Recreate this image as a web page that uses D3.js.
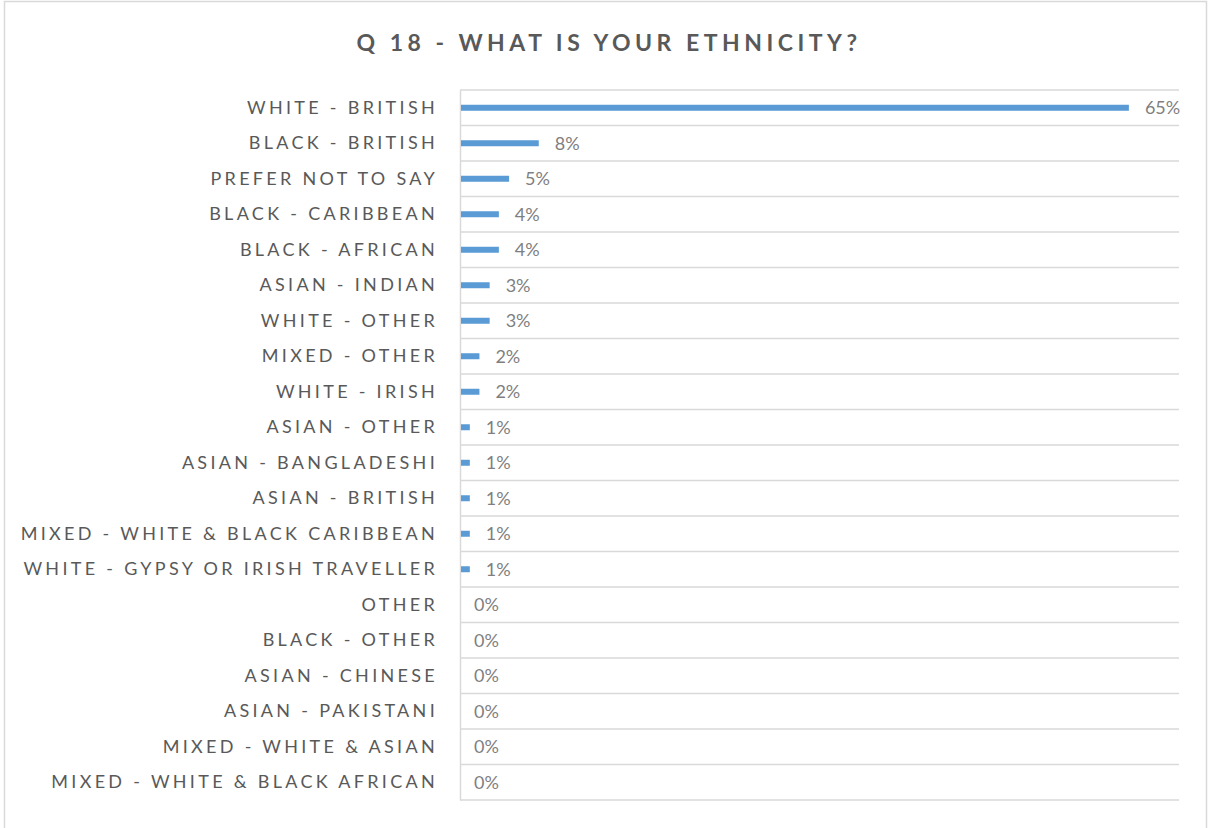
<!DOCTYPE html>
<html><head><meta charset="utf-8">
<script src="https://cdn.jsdelivr.net/npm/d3@7"></script>
<style>
html,body{margin:0;padding:0;background:#fff;}
svg{display:block;}
</style>
</head><body>
<svg id="chart" width="1208" height="828"></svg>
<script>
const title = "Q 18 - WHAT IS YOUR ETHNICITY?";
const categories = [
  "WHITE - BRITISH","BLACK - BRITISH","PREFER NOT TO SAY","BLACK - CARIBBEAN","BLACK - AFRICAN",
  "ASIAN - INDIAN","WHITE - OTHER","MIXED - OTHER","WHITE - IRISH","ASIAN - OTHER",
  "ASIAN - BANGLADESHI","ASIAN - BRITISH","MIXED - WHITE & BLACK CARIBBEAN","WHITE - GYPSY OR IRISH TRAVELLER","OTHER",
  "BLACK - OTHER","ASIAN - CHINESE","ASIAN - PAKISTANI","MIXED - WHITE & ASIAN","MIXED - WHITE & BLACK AFRICAN"
];
const values = [0.654,0.077,0.048,0.038,0.038,0.029,0.029,0.019,0.019,0.0096,0.0096,0.0096,0.0096,0.0096,0,0,0,0,0,0];
const valueLabels = ["65%","8%","5%","4%","4%","3%","3%","2%","2%","1%","1%","1%","1%","1%","0%","0%","0%","0%","0%","0%"];

(function(){
const svg = d3.select("#chart");
const pL = 460, pR = 1179, pT = 90, pB = 800;
const x = d3.scaleLinear().domain([0, 0.703]).range([pL, pR]);
const y = d3.scaleBand().domain(categories).range([pT, pB]).padding(0);

svg.append("rect").attr("x",4.5).attr("y",1.5).attr("width",1202).attr("height",840)
  .attr("fill","#fff").attr("stroke","#d9d9d9").attr("stroke-width",1.5);

svg.append("text").attr("x",609).attr("y",51).attr("text-anchor","middle")
  .attr("font-family","Lato, 'Open Sans', sans-serif").attr("font-weight","bold")
  .attr("font-size",23).attr("letter-spacing",4.5).attr("fill","#595959").text(title);

const bounds = categories.map(c => y(c)).concat([pB]);
svg.append("g").selectAll("line").data(bounds).join("line")
  .attr("x1",pL).attr("x2",pR).attr("y1",d=>d).attr("y2",d=>d)
  .attr("stroke","#d9d9d9").attr("stroke-width",1.5);

const yAxis = d3.axisLeft(y).tickSize(0).tickPadding(22);
const ga = svg.append("g").attr("transform",`translate(${pL},0)`).call(yAxis);
ga.select(".domain").attr("stroke","#d9d9d9").attr("stroke-width",1.5);
ga.selectAll("text").attr("font-family","Lato, 'Open Sans', sans-serif").attr("font-size",18)
  .attr("letter-spacing",3.3).attr("fill","#595959");

const bh = 6;
svg.append("g").selectAll("rect").data(values).join("rect")
  .attr("x",pL+1).attr("y",(d,i)=>y(categories[i])+y.bandwidth()/2-bh/2)
  .attr("width",d=>Math.max(0,x(d)-pL-1)).attr("height",bh).attr("fill","#5b9bd5");

svg.append("g").selectAll("text").data(values).join("text")
  .attr("x",d=>x(d)+ (d>0?16:14)).attr("y",(d,i)=>y(categories[i])+y.bandwidth()/2)
  .attr("dy","0.36em").attr("font-family","Lato, 'Open Sans', sans-serif").attr("font-size",18)
  .attr("fill","#7f7f7f").text((d,i)=>valueLabels[i]);
})();
</script>
</body></html>
